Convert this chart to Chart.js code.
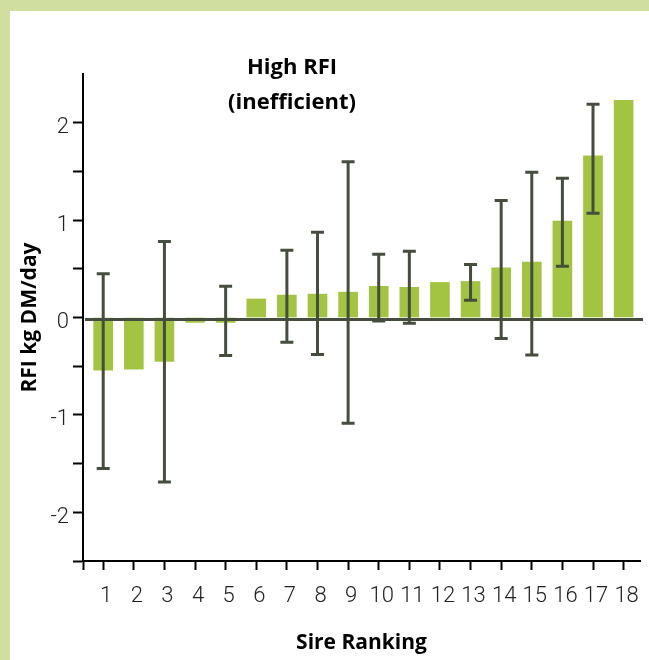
<!DOCTYPE html>
<html><head><meta charset="utf-8">
<script src="https://cdn.jsdelivr.net/npm/chart.js@4.4.1/dist/chart.umd.min.js"></script>
<style>
html,body{margin:0;padding:0;background:#d0dea0;width:649px;height:660px;overflow:hidden}
#box{position:absolute;left:10px;top:11px;width:639px;height:649px;background:#fff}
canvas{display:block}
</style></head><body>
<div id="box"><canvas id="c" width="639" height="649"></canvas></div>
<script>
const titleLines = ['High RFI', '(inefficient)'];
const xTitle = 'Sire Ranking';
const yTitle = 'RFI kg DM/day';
const categories = ['1','2','3','4','5','6','7','8','9','10','11','12','13','14','15','16','17','18'];
const rfiValues = [-0.54,-0.53,-0.45,-0.05,-0.05,0.19,0.23,0.24,0.26,0.32,0.31,0.36,0.37,0.51,0.57,0.99,1.66,2.23];
const errHigh = [0.45,null,0.78,null,0.32,null,0.69,0.875,1.60,0.65,0.68,null,0.545,1.20,1.49,1.43,2.19,null];
const errLow  = [-1.55,null,-1.69,null,-0.39,null,-0.255,-0.38,-1.085,-0.035,-0.06,null,0.177,-0.215,-0.385,0.525,1.07,null];
const yTickLabels = ['-2','-1','0','1','2'];

const BAR = '#a3c443';
const ERR = '#454d3e';
const TICKFONT = "Roboto,'DejaVu Sans Condensed',sans-serif";
const BOLDFONT = "'Open Sans',sans-serif";

const overlay = {
  id: 'overlay',
  afterDatasetsDraw(chart) {
    const {ctx, chartArea, scales: {x, y}} = chart;
    ctx.save();
    ctx.strokeStyle = ERR;
    ctx.lineWidth = 3;
    const y0 = y.getPixelForValue(0) + 2;
    ctx.beginPath();
    ctx.moveTo(chartArea.left + 2, y0);
    ctx.lineTo(chartArea.right + 3, y0);
    ctx.stroke();
    categories.forEach((c, i) => {
      if (errHigh[i] == null) return;
      const px = x.getPixelForValue(i + 1);
      const yh = y.getPixelForValue(errHigh[i]);
      const yl = y.getPixelForValue(errLow[i]);
      ctx.beginPath();
      ctx.moveTo(px, yh); ctx.lineTo(px, yl);
      ctx.moveTo(px - 6.5, yh); ctx.lineTo(px + 6.5, yh);
      ctx.moveTo(px - 6.5, yl); ctx.lineTo(px + 6.5, yl);
      ctx.stroke();
    });
    ctx.restore();
  },
  afterDraw(chart) {
    const {ctx, chartArea} = chart;
    ctx.save();
    ctx.font = "bold 22px " + BOLDFONT;
    ctx.fillStyle = '#000';
    ctx.textAlign = 'center';
    ctx.textBaseline = 'middle';
    const cx = chartArea.left + 209;
    titleLines.forEach((t, i) => ctx.fillText(t, cx, 57 + i * 35));
    ctx.restore();
  }
};

new Chart(document.getElementById('c'), {
  type: 'bar',
  data: {
    datasets: [{
      data: categories.map((c, i) => ({x: i + 1, y: rfiValues[i]})),
      backgroundColor: BAR,
      borderWidth: 0,
      barThickness: 19
    }]
  },
  options: {
    responsive: false,
    animation: false,
    devicePixelRatio: 1,
    layout: {padding: {top: 63, right: 6, left: 0, bottom: 0}},
    plugins: {legend: {display: false}, tooltip: {enabled: false}, title: {display: false}},
    scales: {
      x: {
        type: 'linear',
        offset: false,
        min: 0.34,
        max: 18.536,
        afterBuildTicks: (s) => { s.ticks = [{value: s.min}].concat(categories.map((c, i) => ({value: i + 1}))); },
        afterFit: (s) => { s.height = 99; },
        border: {display: true, color: '#000', width: 2},
        grid: {offset: false, drawOnChartArea: false, drawTicks: true, tickLength: 9, tickColor: '#000', tickWidth: 2},
        ticks: {
          autoSkip: false, maxRotation: 0, minRotation: 0, padding: 13, labelOffset: 3,
          color: '#222', font: {family: TICKFONT, size: 22, weight: 300},
          callback: (v) => Number.isInteger(v) ? categories[v - 1] : ''
        },
        title: {display: true, text: xTitle, color: '#000', font: {family: BOLDFONT, size: 21, weight: 'bold'}, padding: {top: 0, bottom: 4}}
      },
      y: {
        min: -2.5,
        max: 2.5,
        afterFit: (s) => { s.width = 73; },
        border: {display: true, color: '#000', width: 2},
        grid: {
          drawOnChartArea: false, drawTicks: true, tickLength: 10, tickWidth: 2,
          tickColor: (ctx) => (ctx.tick && ctx.tick.value === 2.5) ? 'rgba(0,0,0,0)' : '#000'
        },
        ticks: {
          stepSize: 0.5, autoSkip: false, padding: 4, labelOffset: 5,
          color: '#222', font: {family: TICKFONT, size: 22, weight: 300},
          callback: (v) => yTickLabels.includes(String(v)) ? String(v) : ''
        },
        title: {display: true, text: yTitle, color: '#000', font: {family: BOLDFONT, size: 21, weight: 'bold'}, padding: {top: 7, bottom: 0}}
      }
    }
  },
  plugins: [overlay]
});
</script>
</body></html>
